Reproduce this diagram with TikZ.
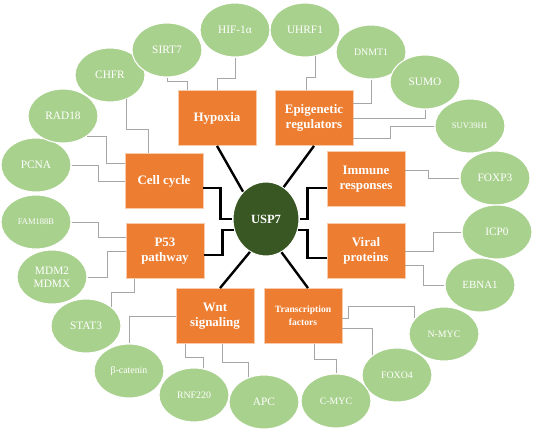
\documentclass[tikz,border=0pt]{standalone}
\usepackage{fontspec}
\setmainfont{Liberation Serif}
\usetikzlibrary{shapes.geometric,calc}
\definecolor{boxorange}{HTML}{ED7D31}
\definecolor{boxedge}{HTML}{F8CBAD}
\definecolor{genegreen}{HTML}{A9D18E}
\definecolor{hubgreen}{HTML}{385723}
\definecolor{linkgray}{HTML}{A6A6A6}
\tikzset{
  gene/.style={ellipse, fill=genegreen, draw=white, line width=0.8pt, text=white,
    minimum width=52.5pt, minimum height=40.5pt, inner sep=0pt, align=center,
    font=\fontsize{8.5}{9.5}\selectfont},
  genesmall/.style={gene, font=\fontsize{7.4}{8.5}\selectfont},
  genetiny/.style={gene, font=\fontsize{6.4}{7.5}\selectfont},
  group/.style={rectangle, fill=boxorange, draw=boxedge, line width=0.6pt, text=white,
    minimum width=58.5pt, minimum height=41.25pt, inner sep=0pt, align=center,
    font=\fontsize{9.7}{11.5}\selectfont\bfseries},
  hub/.style={ellipse, fill=hubgreen, draw=white, line width=0.8pt, text=white,
    minimum width=49.5pt, minimum height=55.5pt, inner sep=0pt,
    font=\fontsize{9.4}{11}\selectfont\bfseries},
  thin link/.style={draw=linkgray, line width=0.7pt},
  thick link/.style={draw=black, line width=1.8pt}
}
\begin{document}
\begin{tikzpicture}[x=0.75pt,y=-0.75pt]
  \useasboundingbox (0,0) rectangle (533,431);

  % Centre and groups
  \node[hub] (usp) at (266,219) {USP7};
  \node[group] (hyp) at (217,118) {Hypoxia};
  \node[group] (epi) at (314,118) {Epigenetic\\regulators};
  \node[group] (cell) at (164,181) {Cell cycle};
  \node[group] (imm) at (366,179) {Immune\\responses};
  \node[group] (p53) at (165,251) {P53\\pathway};
  \node[group] (vir) at (366,251) {Viral\\proteins};
  \node[group] (wnt) at (215,316) {Wnt\\signaling};
  \node[group, font=\fontsize{7.2}{10}\selectfont\bfseries] (tf) at (303,316) {Transcription\\factors};

  % Ring of substrates
  \node[gene] (chfr) at (110,75) {CHFR};
  \node[gene] (sirt) at (167,50) {SIRT7};
  \node[gene] (hif) at (235,30) {HIF-1α};
  \node[gene] (uhrf) at (305,30) {UHRF1};
  \node[genesmall] (dnmt) at (371,52) {DNMT1};
  \node[gene] (sumo) at (425,82) {SUMO};
  \node[genetiny] (suv) at (470,126) {SUV39H1};
  \node[gene] (foxp) at (495,178) {FOXP3};
  \node[gene] (icp) at (497,232) {ICP0};
  \node[gene, font=\fontsize{8.2}{9.5}\selectfont] (ebna) at (480,285) {EBNA1};
  \node[genesmall] (nmyc) at (444,334) {N-MYC};
  \node[genesmall] (foxo) at (397,375) {FOXO4};
  \node[genesmall] (cmyc) at (336,401) {C-MYC};
  \node[gene] (apc) at (264,402) {APC};
  \node[genesmall] (rnf) at (194,395) {RNF220};
  \node[genesmall] (bcat) at (129,371) {β-catenin};
  \node[gene] (stat) at (86,326) {STAT3};
  \node[gene] (mdm) at (52,277) {MDM2\\MDMX};
  \node[genetiny] (fam) at (36,222) {FAM188B};
  \node[gene] (pcna) at (36,165) {PCNA};
  \node[gene] (rad) at (63,116) {RAD18};

  % Groups to USP7
  \draw[thick link] (hyp.south) -- (usp.130);
  \draw[thick link] (epi.south) -- (usp.61);
  \draw[thick link] ($(cell.east)+(0,7)$) -- ++(17,0) |- (usp.west);
  \draw[thick link] ($(p53.east)+(0,4)$) -- ++(18,0) |- (usp.199);
  \draw[thick link] ($(imm.west)+(0,9)$) -- ++(-19,0) |- (usp.east);
  \draw[thick link] ($(vir.west)+(0,7)$) -- ++(-19,0) |- (usp.-19);
  \draw[thick link] ($(wnt.north)+(5,0)$) -- (usp.-116);
  \draw[thick link] ($(tf.north)+(5,0)$) -- (usp.-65);

  % Substrates to groups
  \draw[thin link] (sirt.south) -- ++(0,4) -| ($(hyp.north)+(-30,0)$);
  \draw[thin link] (hif.south) -- ++(0,21) -| (hyp.north);
  \draw[thin link] (chfr.-56) |- ($(cell.north)+(-16,-24)$) -- ($(cell.north)+(-16,0)$);
  \draw[thin link] (rad.-40) -| ($(cell.west)+(-18,-18)$) -- ($(cell.west)+(0,-18)$);
  \draw[thin link] (pcna.east) -- ++(27,0) |- (cell.west);
  \draw[thin link] (fam.east) -- ++(27,0) |- ($(p53.west)+(0,-14)$);
  \draw[thin link] (mdm.east) -- ++(20,0) |- (p53.west);
  \draw[thin link] (stat.37) |- ($(p53.south)+(-31,14)$) -- ($(p53.south)+(-31,0)$);
  \draw[thin link] (bcat.north) |- (wnt.west);
  \draw[thin link] (rnf.71) |- ($(wnt.south)+(-30,14)$) -- ($(wnt.south)+(-30,0)$);
  \draw[thin link] (apc.122) |- ($(wnt.south)+(7,19)$) -- ($(wnt.south)+(7,0)$);
  \draw[thin link] (cmyc.north) |- ($(tf.south)+(11,16)$) -- ($(tf.south)+(11,0)$);
  \draw[thin link] (foxo.141) |- ($(tf.east)+(0,12)$);
  \draw[thin link] (nmyc.152) |- ($(tf.east)+(6,-10)$) |- ($(tf.east)+(0,2)$);
  \draw[thin link] (icp.west) -- ++(-28,0) |- (vir.east);
  \draw[thin link] (ebna.west) -- ++(-21,0) |- ($(vir.east)+(0,14)$);
  \draw[thin link] (foxp.west) -- ++(-31,0) |- ($(imm.east)+(0,-9)$);
  \draw[thin link] (uhrf.-69) |- ($(epi.north)+(-8,-13)$) -- ($(epi.north)+(-8,0)$);
  \draw[thin link] (dnmt.south) |- ($(epi.east)+(0,-15)$);
  \draw[thin link] (sumo.south) |- (epi.east);
  \draw[thin link] (suv.west) -- ++(-44,0) |- ($(epi.east)+(0,20)$);
\end{tikzpicture}
\end{document}
